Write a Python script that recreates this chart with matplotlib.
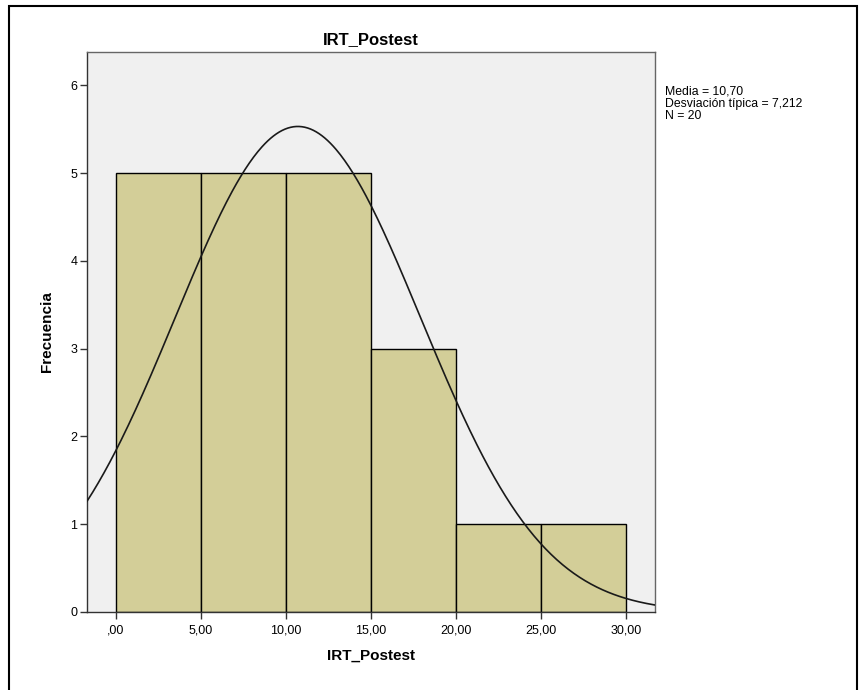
import numpy as np
import matplotlib.pyplot as plt
from matplotlib.patches import Rectangle

plt.rcParams['font.family'] = ['Liberation Sans', 'DejaVu Sans']

bordes = [0, 5, 10, 15, 20, 25, 30]
frecuencias = [5, 5, 5, 3, 1, 1]
media = 10.70
desv = 7.212
n = 20
xticks = [0, 5, 10, 15, 20, 25, 30]
xticklabels = [',00', '5,00', '10,00', '15,00', '20,00', '25,00', '30,00']
yticks = [0, 1, 2, 3, 4, 5, 6]

fig = plt.figure(figsize=(8.59, 6.90), dpi=100)
fig.patches.append(Rectangle((9/859, -0.01), 848/859, 1 - 6/690 + 0.01,
                             transform=fig.transFigure, fill=False,
                             edgecolor='black', linewidth=1.5))

ax = fig.add_axes([87/859, 78/690, 568/859, 560/690])
ax.set_facecolor('#F0F0F0')

anchos = np.diff(bordes)
ax.bar(bordes[:-1], frecuencias, width=anchos, align='edge',
       color='#D3CE98', edgecolor='black', linewidth=1.0, zorder=2)

x = np.linspace(-1.7, 31.7, 400)
ancho = bordes[1] - bordes[0]
y = n * ancho / (desv * np.sqrt(2 * np.pi)) * np.exp(-0.5 * ((x - media) / desv) ** 2)
ax.plot(x, y, color='#1a1a1a', linewidth=1.2, zorder=3)

ax.set_xlim(-1.7, 31.7)
ax.set_ylim(0, 6.38)
ax.set_xticks(xticks)
ax.set_xticklabels(xticklabels)
ax.set_yticks(yticks)
ax.tick_params(direction='out', length=5, width=1, colors='#333333',
               labelsize=9, labelcolor='black', pad=2)
ax.tick_params(axis='x', pad=4)
for s in ax.spines.values():
    s.set_color('#666666')
    s.set_linewidth(1.0)
ax.spines['left'].set_color('#333333')
ax.spines['bottom'].set_color('#333333')

ax.set_title('IRT_Postest', fontsize=12, fontweight='bold', pad=6)
ax.set_xlabel('IRT_Postest', fontsize=11, fontweight='bold', labelpad=9)
ax.set_ylabel('Frecuencia', fontsize=11, fontweight='bold', labelpad=12)

fig.text(665/859, 1 - 86/690,
         'Media = 10,70\nDesviación típica = 7,212\nN = 20',
         fontsize=8.8, va='top', ha='left', linespacing=1.0)

fig.savefig('out.png', dpi=100)
